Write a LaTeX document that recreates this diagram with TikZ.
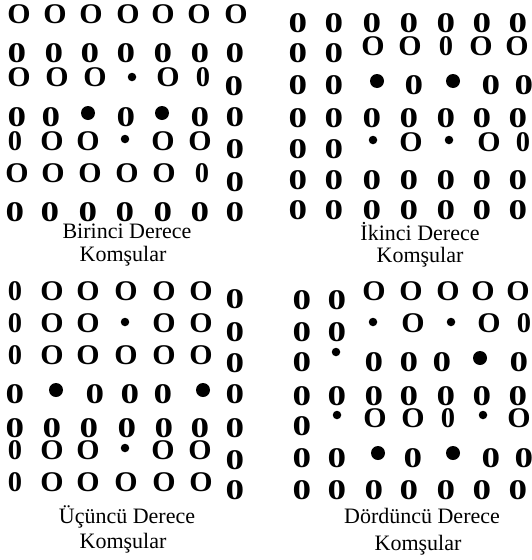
\documentclass[tikz,border=0pt]{standalone}
\usepackage{fontspec}
\setmainfont{Liberation Serif}
\tikzset{
  glyph/.style={inner sep=0pt, outer sep=0pt, font=\fontsize{28.5}{28.5}\selectfont\bfseries},
  gO/.style={glyph, node contents={\scalebox{1.05}[1]{O}}},
  gz/.style={glyph, node contents={\scalebox{1.3}[1]{0}}},
  gn/.style={glyph, node contents={0}},
  gs/.style={circle, fill=black, inner sep=0pt, outer sep=0pt, minimum size=8.5pt, node contents={}},
  gb/.style={circle, fill=black, inner sep=0pt, outer sep=0pt, minimum size=14pt, node contents={}},
  lab/.style={font=\fontsize{22}{22}\selectfont, inner sep=0pt, anchor=base}
}
\begin{document}
\begin{tikzpicture}[x=1pt, y=-1pt]
\useasboundingbox (0,0) rectangle (532,560);
% ---------- Panel 1: Birinci Derece ----------
\foreach \x/\y/\t [count=\i] in {
  19/14/gO, 55/14/gO, 91/14/gO, 128/14/gO, 163/14/gO, 199/14/gO, 236/14/gO,
  17/53/gz, 54/53/gz, 90/53/gz, 126/53/gz, 163/53/gz, 200/53/gz, 235/53/gz,
  19/77/gO, 57/77/gO, 95/77/gO, 132/77/gs, 168/77/gO, 203/77/gn, 234/86/gz,
  17/117/gz, 51/117/gz, 88/113/gb, 126/117/gz, 162/113/gb, 200/117/gz, 235/117/gz,
  15/141/gn, 52/141/gO, 88/141/gO, 125/139/gs, 163/141/gO, 200/141/gO, 235/149/gz,
  17/173/gO, 53/173/gO, 90/173/gO, 127/173/gO, 164/173/gO, 202/173/gn, 235/182/gz,
  15/212/gz, 50/212/gz, 88/212/gz, 125/212/gz, 163/212/gz, 200/212/gz, 235/212/gz}
  \node (pa\i) at (\x,\y) [\t];
\node[lab] (la1) at (127,238) {Birinci Derece};
\node[lab] (la2) at (123,261) {Komşular};
% ---------- Panel 2: Ikinci Derece ----------
\foreach \x/\y/\t [count=\i] in {
  298/23/gz, 334/23/gz, 372/23/gz, 409/23/gz, 446/23/gz, 482/23/gz, 518/23/gz,
  298/53/gz, 334/53/gz, 373/46/gO, 410/46/gO, 446/46/gn, 481/46/gO, 517/46/gO,
  298/85/gz, 334/85/gz, 377/81/gb, 414/85/gz, 453/81/gb, 491/85/gz, 524/85/gz,
  298/118/gz, 334/118/gz, 372/118/gz, 409/118/gz, 446/118/gz, 482/118/gz, 518/118/gz,
  298/149/gz, 334/149/gz, 373/140/gs, 411/142/gO, 449/140/gs, 489/142/gO, 523/142/gn,
  298/180/gz, 334/180/gz, 372/180/gz, 409/180/gz, 446/180/gz, 482/180/gz, 518/180/gz,
  298/210/gz, 334/210/gz, 372/210/gz, 409/210/gz, 446/210/gz, 482/210/gz, 518/210/gz}
  \node (pb\i) at (\x,\y) [\t];
\node[lab] (lb1) at (420,240) {İkinci Derece};
\node[lab] (lb2) at (420,262) {Komşular};
% ---------- Panel 3: Ucuncu Derece ----------
\foreach \x/\y/\t [count=\i] in {
  15/291/gn, 52/291/gO, 88/291/gO, 126/291/gO, 164/291/gO, 201/291/gO, 235/299/gz,
  15/323/gn, 52/323/gO, 88/323/gO, 125/322/gs, 164/323/gO, 201/323/gO, 235/332/gz,
  15/355/gn, 52/355/gO, 88/355/gO, 126/355/gO, 164/355/gO, 201/355/gO, 235/363/gz,
  15/394/gz, 56/390/gb, 95/394/gz, 130/394/gz, 163/394/gz, 203/390/gb, 235/394/gz,
  15/428/gz, 52/428/gz, 89/428/gz, 127/428/gz, 164/428/gz, 200/428/gz, 235/428/gz,
  15/450/gn, 52/450/gO, 88/450/gO, 125/448/gs, 163/450/gO, 200/450/gO, 235/460/gz,
  15/482/gn, 52/482/gO, 88/482/gO, 126/482/gO, 164/482/gO, 201/482/gO, 235/490/gz}
  \node (pc\i) at (\x,\y) [\t];
\node[lab] (lc1) at (127,523) {Üçüncü Derece};
\node[lab] (lc2) at (123,548) {Komşular};
% ---------- Panel 4: Dorduncu Derece ----------
\foreach \x/\y/\t [count=\i] in {
  302/300/gz, 337/300/gz, 374/291/gO, 411/291/gO, 448/291/gO, 483/291/gO, 518/291/gO,
  302/332/gz, 337/332/gz, 373/322/gs, 413/323/gO, 451/322/gs, 489/323/gO, 524/323/gn,
  302/362/gz, 336/352/gs, 374/362/gz, 409/362/gz, 442/362/gz, 480/358/gb, 519/362/gz,
  302/396/gz, 337/396/gz, 374/396/gz, 409/396/gz, 446/396/gz, 482/396/gz, 518/396/gz,
  302/426/gz, 337/415/gs, 375/418/gO, 413/418/gO, 448/418/gn, 483/415/gs, 519/418/gO,
  302/458/gz, 337/458/gz, 378/453/gb, 413/458/gz, 453/453/gb, 491/458/gz, 524/458/gz,
  302/490/gz, 337/490/gz, 374/490/gz, 409/490/gz, 446/490/gz, 482/490/gz, 518/490/gz}
  \node (pd\i) at (\x,\y) [\t];
\node[lab] (ld1) at (422,523) {Dördüncü Derece};
\node[lab] (ld2) at (418,550) {Komşular};
\end{tikzpicture}
\end{document}
